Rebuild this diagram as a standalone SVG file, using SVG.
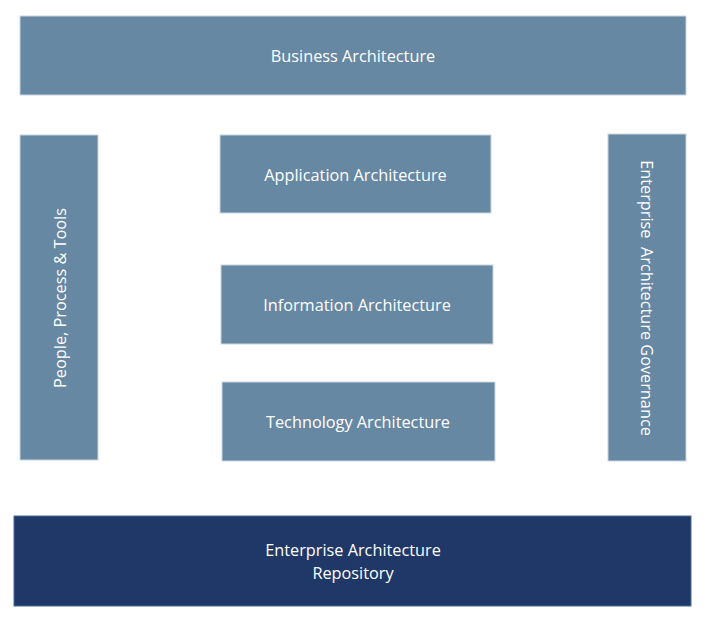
<svg xmlns="http://www.w3.org/2000/svg" width="716" height="623" viewBox="0 0 716 623">
<style>
.box{fill:#6688a3;stroke:#c9d6e0;stroke-width:1}
.dark{fill:#1f3868;stroke:#4a6a95;stroke-width:1}
text{font-family:"Open Sans","Noto Sans",sans-serif;font-size:16.3px;fill:#ffffff;text-anchor:middle;dominant-baseline:central}
</style>
<rect width="716" height="623" fill="#ffffff"/>
<g id="business"><rect class="box" x="20" y="16" width="666" height="79"/><text x="353" y="56">Business Architecture</text></g>
<g id="people"><rect class="box" x="20" y="135" width="78" height="325"/><text transform="translate(60,298) rotate(-90)">People, Process &amp; Tools</text></g>
<g id="application"><rect class="box" x="220" y="135" width="271" height="78"/><text x="355.5" y="175">Application Architecture</text></g>
<g id="information"><rect class="box" x="221" y="265" width="272" height="79"/><text x="357" y="305">Information Architecture</text></g>
<g id="technology"><rect class="box" x="222" y="382" width="273" height="79"/><text x="358" y="422">Technology Architecture</text></g>
<g id="governance"><rect class="box" x="608" y="134" width="78" height="327"/><text transform="translate(647,298) rotate(90)" xml:space="preserve">Enterprise  Architecture Governance</text></g>
<g id="repository"><rect class="dark" x="14" y="516" width="677" height="90"/><text x="353" y="550">Enterprise Architecture</text><text x="353" y="573">Repository</text></g>
<g id="connectors"></g>
</svg>
